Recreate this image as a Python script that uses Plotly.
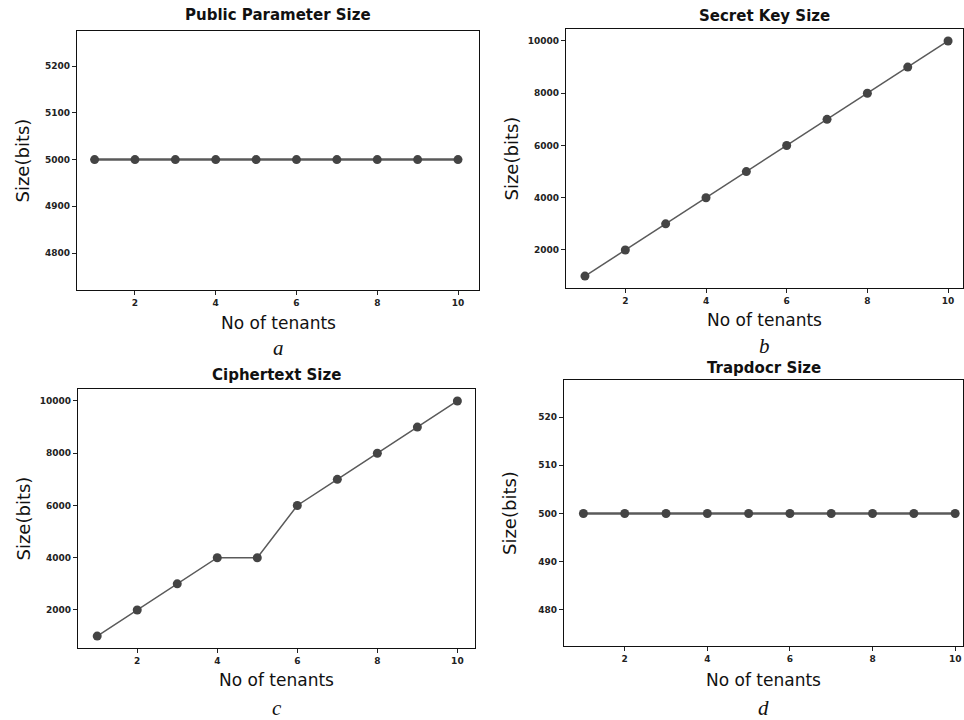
import plotly.graph_objects as go

tenants = [1, 2, 3, 4, 5, 6, 7, 8, 9, 10]
public_param = [5000, 5000, 5000, 5000, 5000, 5000, 5000, 5000, 5000, 5000]
secret_key = [1000, 2000, 3000, 4000, 5000, 6000, 7000, 8000, 9000, 10000]
ciphertext = [1000, 2000, 3000, 4000, 4000, 6000, 7000, 8000, 9000, 10000]
trapdoor = [500, 500, 500, 500, 500, 500, 500, 500, 500, 500]

titles = ["Public Parameter Size", "Secret Key Size", "Ciphertext Size", "Trapdocr Size"]
captions = ["a", "b", "c", "d"]
x_ticks = [2, 4, 6, 8, 10]
y_ticks_a = [4800, 4900, 5000, 5100, 5200]
y_ticks_b = [2000, 4000, 6000, 8000, 10000]
y_ticks_c = [2000, 4000, 6000, 8000, 10000]
y_ticks_d = [480, 490, 500, 510, 520]

W, H = 964, 720
# pixel boxes: x0, x1, ytop, ybottom
boxes = [(77, 479, 31, 290), (566, 963, 29, 288), (78, 475, 389, 648), (564, 963, 380, 646)]
xranges = [[0.564, 10.52], [0.53, 10.37], [0.52, 10.44], [0.53, 10.19]]
yranges = [[4721, 5275], [545, 10459], [545, 10459], [472.5, 527.7]]
series = [public_param, secret_key, ciphertext, trapdoor]
yticks = [y_ticks_a, y_ticks_b, y_ticks_c, y_ticks_d]
lwidths = [2.5, 1.5, 1.5, 2.5]
title_y = [15, 16, 375, 368]
xlabel_y = [323, 320, 680, 680]
caption_y = [348, 346, 708, 708]

fig = go.Figure()
anns = []
for i in range(4):
    x0, x1, yt, yb = boxes[i]
    xa = "xaxis" if i == 0 else f"xaxis{i+1}"
    ya = "yaxis" if i == 0 else f"yaxis{i+1}"
    xr = "x" if i == 0 else f"x{i+1}"
    yr = "y" if i == 0 else f"y{i+1}"
    fig.add_trace(go.Scatter(
        x=tenants, y=series[i], mode="lines+markers", xaxis=xr, yaxis=yr,
        line=dict(color="#5a5a5a", width=lwidths[i]),
        marker=dict(color="#444444", size=9), showlegend=False))
    fig.layout[xa] = dict(
        domain=[x0 / W, x1 / W], range=xranges[i], anchor=yr,
        tickvals=x_ticks, ticktext=[str(v) for v in x_ticks],
        ticks="outside", ticklen=4, tickcolor="#222",
        tickfont=dict(family="DejaVu Sans", size=9, color="#222", weight="bold"),
        showline=True, linecolor="#111", linewidth=1.2, mirror=True,
        showgrid=False, zeroline=False)
    fig.layout[ya] = dict(
        domain=[1 - yb / H, 1 - yt / H], range=yranges[i], anchor=xr,
        tickvals=yticks[i], ticktext=[str(v) for v in yticks[i]],
        ticks="outside", ticklen=4, tickcolor="#222",
        tickfont=dict(family="DejaVu Sans", size=9, color="#222", weight="bold"),
        showline=True, linecolor="#111", linewidth=1.2, mirror=True,
        showgrid=False, zeroline=False)
    cx = (x0 + x1) / 2 / W
    anns.append(dict(text=titles[i], x=cx, y=1 - title_y[i] / H, xref="paper", yref="paper",
                     showarrow=False, xanchor="center", yanchor="middle",
                     font=dict(family="DejaVu Sans", size=15, color="#111", weight="bold")))
    anns.append(dict(text="No of tenants", x=cx, y=1 - xlabel_y[i] / H, xref="paper", yref="paper",
                     showarrow=False, xanchor="center", yanchor="middle",
                     font=dict(family="DejaVu Sans", size=17, color="#111")))
    anns.append(dict(text="Size(bits)", x=(x0 - 55) / W, y=1 - (yt + yb) / 2 / H, xref="paper", yref="paper",
                     showarrow=False, xanchor="center", yanchor="middle", textangle=-90,
                     font=dict(family="DejaVu Sans", size=18, color="#111")))
    anns.append(dict(text=captions[i], x=cx, y=1 - caption_y[i] / H, xref="paper", yref="paper",
                     showarrow=False, xanchor="center", yanchor="middle",
                     font=dict(family="Liberation Serif", size=21, color="#111", style="italic")))

fig.update_layout(width=W, height=H, margin=dict(l=0, r=0, t=0, b=0),
                  plot_bgcolor="white", paper_bgcolor="white", annotations=anns)
fig.write_html("out.html")
